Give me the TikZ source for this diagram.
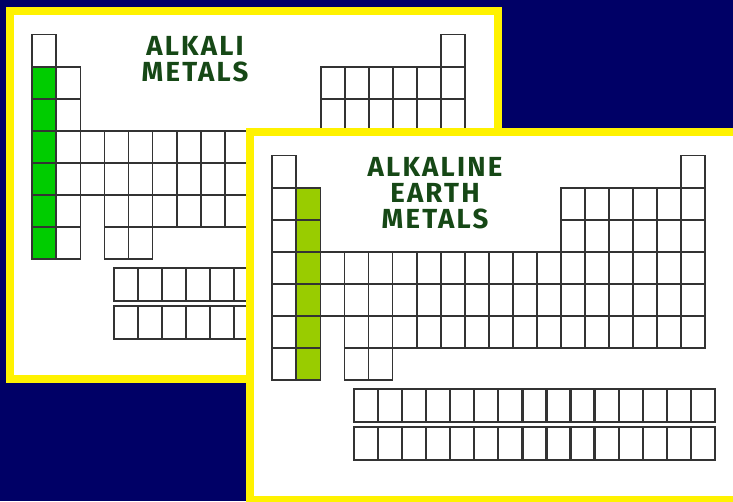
\documentclass[tikz,border=0pt]{standalone}
\usepackage{fontspec}
\newfontfamily\handfont[LetterSpace=8]{Fira Sans}
\definecolor{navy}{RGB}{0,0,102}
\definecolor{alkali}{RGB}{0,204,0}
\definecolor{earth}{RGB}{153,204,0}
\definecolor{ink}{RGB}{22,72,22}

\begin{document}
\begin{tikzpicture}[x=1pt,y=-1pt,
  cell/.style={draw=black!80,line width=1.8pt},
  rare/.style={draw=black!80,line width=2.2pt},
  title/.style={font=\handfont\bfseries\fontsize{27.6}{26}\selectfont,text=ink,
    align=center,anchor=north,inner sep=0pt}]
\fill[navy] (0,0) rectangle (733,501);
\useasboundingbox (0,0) rectangle (733,501);
\foreach \px/\py/\gc/\gcol/\name in {14/15/0/alkali/{ALKALI\\METALS},
  254/136/1/earth/{ALKALINE\\EARTH\\METALS}}
{
	\fill[yellow] (\px-8,\py-8) rectangle ++(496,376);
	\fill[white] (\px,\py) rectangle ++(480,360);
	\node[title] (title) at (\px+181,\py+21) {\name};
	\begin{scope}[shift={(\px+18.3,\py+19.5)},x=24.05pt,y=-32.1pt]
		\fill[\gcol] (\gc,1) rectangle (\gc+1,7);
		\foreach \cx in {0,17}
			\draw[cell] (\cx,0) rectangle ++(1,1);
		\foreach \ry in {1,2}
			\foreach \cx in {0,1,12,13,...,17}
				\draw[cell] (\cx,\ry) rectangle ++(1,1);
		\foreach \ry in {3,4}
			\foreach \cx in {0,...,17}
				\draw[cell] (\cx,\ry) rectangle ++(1,1);
		\foreach \cx in {0,1,3,4,...,17}
			\draw[cell] (\cx,5) rectangle ++(1,1);
		\foreach \cx in {0,1,3,4}
			\draw[cell] (\cx,6) rectangle ++(1,1);
		% f-block rows
		\foreach \ry in {7.27,8.46}
			\foreach \cx in {0,...,14}
				\draw[rare] ({\cx+3.4},\ry) rectangle ++(1,1.02);
	\end{scope}
}
\end{tikzpicture}
\end{document}
